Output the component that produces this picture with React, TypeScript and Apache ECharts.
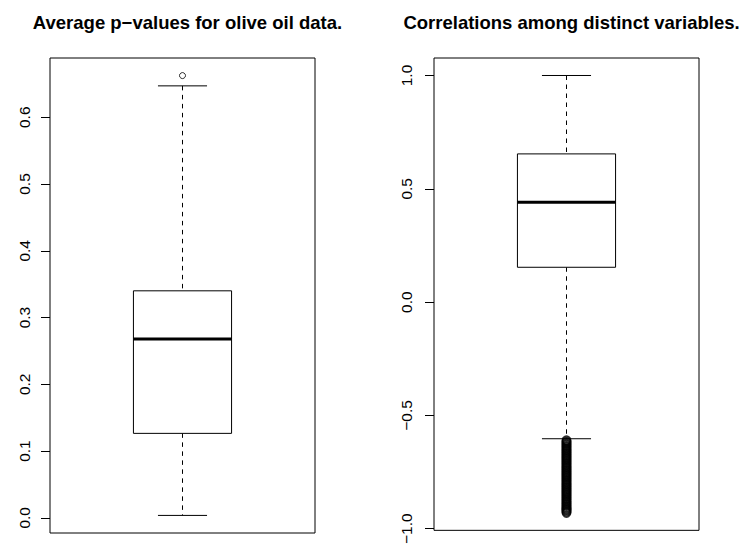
import React, { useEffect, useRef } from "react";
import * as echarts from "echarts";

const titles = ["Average p\u2212values for olive oil data.", "Correlations among distinct variables."];

// [lower whisker, Q1, median, Q3, upper whisker]
const pvalueStats = [0.0036, 0.1265, 0.268, 0.34, 0.647];
const pvalueOutliers = [0.6624];
const pvalueTicks = [0, 0.1, 0.2, 0.3, 0.4, 0.5, 0.6];

const corrStats = [-0.603, 0.1537, 0.4405, 0.654, 1.0];
const corrOutliers = [
  -0.61, -0.615, -0.62, -0.625, -0.63, -0.635, -0.64, -0.645, -0.65, -0.655,
  -0.66, -0.665, -0.67, -0.675, -0.68, -0.685, -0.69, -0.695, -0.7, -0.705,
  -0.71, -0.715, -0.72, -0.725, -0.73, -0.735, -0.74, -0.745, -0.75, -0.755,
  -0.76, -0.765, -0.77, -0.775, -0.78, -0.785, -0.79, -0.795, -0.8, -0.805,
  -0.81, -0.815, -0.82, -0.825, -0.83, -0.835, -0.84, -0.845, -0.85, -0.855,
  -0.86, -0.865, -0.87, -0.875, -0.88, -0.885, -0.89, -0.895, -0.9, -0.905,
  -0.91, -0.915, -0.92, -0.925, -0.93,
];
const corrTicks = [-1, -0.5, 0, 0.5, 1];

const FONT = "'Liberation Sans', Arial, Helvetica, sans-serif";

function paddedRange(vals: number[]): [number, number] {
  const lo = Math.min(...vals);
  const hi = Math.max(...vals);
  const pad = 0.04 * (hi - lo);
  return [lo - pad, hi + pad];
}

function fmt(v: number) {
  return (v < 0 ? "\u2212" : "") + Math.abs(v).toFixed(1);
}

function renderBox(params: any, api: any) {
  const x = api.value(0);
  const lo = api.value(1);
  const q1 = api.value(2);
  const med = api.value(3);
  const q3 = api.value(4);
  const hi = api.value(5);
  const tl = api.coord([x - 0.2, q3]);
  const br = api.coord([x + 0.2, q1]);
  const mL = api.coord([x - 0.2, med]);
  const mR = api.coord([x + 0.2, med]);
  const cHi = api.coord([x, hi]);
  const cLo = api.coord([x, lo]);
  const cq3 = api.coord([x, q3]);
  const cq1 = api.coord([x, q1]);
  const sHiL = api.coord([x - 0.1, hi]);
  const sHiR = api.coord([x + 0.1, hi]);
  const sLoL = api.coord([x - 0.1, lo]);
  const sLoR = api.coord([x + 0.1, lo]);
  const solid = { stroke: "#000", lineWidth: 1, fill: null };
  const dashed = { stroke: "#000", lineWidth: 1, lineDash: [4.5, 4.5] };
  return {
    type: "group",
    children: [
      { type: "line", shape: { x1: cHi[0], y1: cHi[1], x2: cq3[0], y2: cq3[1] }, style: dashed },
      { type: "line", shape: { x1: cq1[0], y1: cq1[1], x2: cLo[0], y2: cLo[1] }, style: dashed },
      { type: "line", shape: { x1: sHiL[0], y1: sHiL[1], x2: sHiR[0], y2: sHiR[1] }, style: solid },
      { type: "line", shape: { x1: sLoL[0], y1: sLoL[1], x2: sLoR[0], y2: sLoR[1] }, style: solid },
      {
        type: "rect",
        shape: { x: tl[0], y: tl[1], width: br[0] - tl[0], height: br[1] - tl[1] },
        style: { stroke: "#000", lineWidth: 1, fill: "#fff" },
      },
      { type: "line", shape: { x1: mL[0], y1: mL[1], x2: mR[0], y2: mR[1] }, style: { stroke: "#000", lineWidth: 3 } },
    ],
  };
}

function yAxisFor(idx: number, range: [number, number], ticks: number[], margin: number) {
  return {
    type: "value",
    gridIndex: idx,
    min: range[0],
    max: range[1],
    axisLine: { show: false },
    splitLine: { show: false },
    axisTick: { show: true, customValues: ticks, length: 9, lineStyle: { color: "#000", width: 1 } },
    axisLabel: {
      customValues: ticks,
      rotate: 90,
      margin,
      fontSize: 15.5,
      color: "#000",
      fontFamily: FONT,
      formatter: (v: number) => fmt(v),
    },
  };
}

export default function App() {
  const ref = useRef<HTMLDivElement>(null);
  useEffect(() => {
    document.body.style.margin = "0";
    if (!ref.current) return;
    const chart = echarts.init(ref.current, null, { renderer: "svg" });
    const leftRange = paddedRange([...pvalueStats, ...pvalueOutliers]);
    const rightRange = paddedRange([...corrStats, ...corrOutliers]);
    chart.setOption({
      animation: false,
      backgroundColor: "#fff",
      title: [
        {
          text: titles[0],
          left: 182.5,
          top: 8,
          textAlign: "center",
          textStyle: { fontSize: 18.5, fontWeight: "bold", color: "#000", fontFamily: FONT },
        },
        {
          text: titles[1],
          left: 566.5,
          top: 8,
          textAlign: "center",
          textStyle: { fontSize: 18.5, fontWeight: "bold", color: "#000", fontFamily: FONT },
        },
      ],
      grid: [
        { left: 50, right: 426, top: 58, bottom: 14, show: true, borderColor: "#000", borderWidth: 1, backgroundColor: "transparent" },
        { left: 434, right: 42, top: 58, bottom: 14, show: true, borderColor: "#000", borderWidth: 1, backgroundColor: "transparent" },
      ],
      xAxis: [
        { type: "value", gridIndex: 0, min: 0.46, max: 1.54, show: false },
        { type: "value", gridIndex: 1, min: 0.46, max: 1.54, show: false },
      ],
      yAxis: [yAxisFor(0, leftRange, pvalueTicks, 18), yAxisFor(1, rightRange, corrTicks, 20)],
      series: [
        {
          type: "custom",
          xAxisIndex: 0,
          yAxisIndex: 0,
          renderItem: renderBox,
          data: [[1, ...pvalueStats]],
          silent: true,
        },
        {
          type: "scatter",
          xAxisIndex: 0,
          yAxisIndex: 0,
          data: pvalueOutliers.map((v) => [1, v]),
          symbol: "circle",
          symbolSize: 6,
          itemStyle: { color: "transparent", borderColor: "#000", borderWidth: 1 },
          silent: true,
        },
        {
          type: "custom",
          xAxisIndex: 1,
          yAxisIndex: 1,
          renderItem: renderBox,
          data: [[1, ...corrStats]],
          silent: true,
        },
        {
          type: "scatter",
          xAxisIndex: 1,
          yAxisIndex: 1,
          data: corrOutliers.map((v) => [1, v]),
          symbol: "circle",
          symbolSize: 8.5,
          itemStyle: { color: "transparent", borderColor: "#000", borderWidth: 1.5 },
          silent: true,
        },
      ],
    });
    return () => chart.dispose();
  }, []);
  return <div ref={ref} style={{ position: "absolute", left: 0, top: 0, width: 741, height: 547 }} />;
}
